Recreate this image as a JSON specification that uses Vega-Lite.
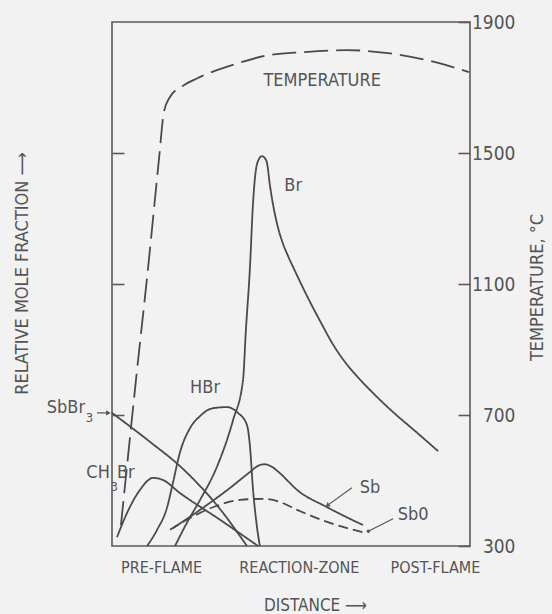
{
  "$schema": "https://vega.github.io/schema/vega-lite/v6.json",
  "width": 358,
  "height": 524,
  "autosize": {"type": "none"},
  "padding": {"left": 112, "top": 22, "right": 82, "bottom": 68},
  "background": "#f2f2f2",
  "config": {
    "view": {"stroke": "#5a5a5a", "strokeWidth": 1.6},
    "font": "Liberation Sans Narrow, DejaVu Sans Condensed, sans-serif",
    "axis": {"grid": false, "domain": false, "labelColor": "#555555", "titleColor": "#555555", "titleFontWeight": "normal", "tickColor": "#5a5a5a", "tickWidth": 1.6},
    "text": {"color": "#555555", "font": "Liberation Sans Narrow, DejaVu Sans Condensed, sans-serif"}
  },
  "datasets": {
    "curves": [
      {"species": "Br", "d": 17.6, "v": 0},
      {"species": "Br", "d": 20.9, "v": 4.4},
      {"species": "Br", "d": 24.6, "v": 8.8},
      {"species": "Br", "d": 29.3, "v": 15.1},
      {"species": "Br", "d": 33.8, "v": 24.0},
      {"species": "Br", "d": 36.6, "v": 31.7},
      {"species": "Br", "d": 37.4, "v": 41.2},
      {"species": "Br", "d": 38.5, "v": 52.7},
      {"species": "Br", "d": 39.4, "v": 65.5},
      {"species": "Br", "d": 40.2, "v": 71.8},
      {"species": "Br", "d": 41.1, "v": 73.9},
      {"species": "Br", "d": 41.9, "v": 74.4},
      {"species": "Br", "d": 42.7, "v": 74.0},
      {"species": "Br", "d": 43.3, "v": 73.1},
      {"species": "Br", "d": 44.1, "v": 68.9},
      {"species": "Br", "d": 45.0, "v": 65.1},
      {"species": "Br", "d": 46.1, "v": 61.5},
      {"species": "Br", "d": 47.5, "v": 58.2},
      {"species": "Br", "d": 49.2, "v": 55.3},
      {"species": "Br", "d": 51.1, "v": 52.5},
      {"species": "Br", "d": 53.4, "v": 49.2},
      {"species": "Br", "d": 55.9, "v": 45.8},
      {"species": "Br", "d": 58.7, "v": 42.2},
      {"species": "Br", "d": 61.7, "v": 38.5},
      {"species": "Br", "d": 65.1, "v": 35.1},
      {"species": "Br", "d": 68.7, "v": 32.2},
      {"species": "Br", "d": 73.5, "v": 28.8},
      {"species": "Br", "d": 79.1, "v": 25.2},
      {"species": "Br", "d": 84.9, "v": 21.8},
      {"species": "Br", "d": 91.1, "v": 18.1},
      {"species": "HBr", "d": 9.8, "v": 0},
      {"species": "HBr", "d": 12.6, "v": 3.1},
      {"species": "HBr", "d": 15.4, "v": 7.4},
      {"species": "HBr", "d": 17.0, "v": 12.0},
      {"species": "HBr", "d": 19.0, "v": 17.9},
      {"species": "HBr", "d": 21.8, "v": 22.5},
      {"species": "HBr", "d": 24.6, "v": 24.8},
      {"species": "HBr", "d": 28.2, "v": 26.3},
      {"species": "HBr", "d": 32.1, "v": 26.5},
      {"species": "HBr", "d": 35.2, "v": 25.4},
      {"species": "HBr", "d": 37.7, "v": 23.1},
      {"species": "HBr", "d": 38.5, "v": 19.3},
      {"species": "HBr", "d": 39.4, "v": 10.7},
      {"species": "HBr", "d": 40.5, "v": 3.6},
      {"species": "HBr", "d": 41.3, "v": 0},
      {"species": "SbBr3", "d": 0, "v": 25.4},
      {"species": "SbBr3", "d": 10.0, "v": 20.2},
      {"species": "SbBr3", "d": 20.0, "v": 14.6},
      {"species": "SbBr3", "d": 30.0, "v": 7.2},
      {"species": "SbBr3", "d": 37.7, "v": 0},
      {"species": "CH3Br", "d": 1.4, "v": 1.7},
      {"species": "CH3Br", "d": 4.2, "v": 6.3},
      {"species": "CH3Br", "d": 7.8, "v": 10.7},
      {"species": "CH3Br", "d": 11.5, "v": 13.0},
      {"species": "CH3Br", "d": 14.2, "v": 12.6},
      {"species": "CH3Br", "d": 19.0, "v": 10.1},
      {"species": "CH3Br", "d": 30.2, "v": 5.0},
      {"species": "CH3Br", "d": 40.8, "v": 0},
      {"species": "Sb", "d": 17.0, "v": 3.4},
      {"species": "Sb", "d": 24.6, "v": 6.9},
      {"species": "Sb", "d": 33.0, "v": 11.1},
      {"species": "Sb", "d": 38.5, "v": 14.1},
      {"species": "Sb", "d": 40.8, "v": 15.3},
      {"species": "Sb", "d": 42.5, "v": 15.6},
      {"species": "Sb", "d": 44.7, "v": 15.1},
      {"species": "Sb", "d": 46.9, "v": 13.9},
      {"species": "Sb", "d": 51.7, "v": 10.7},
      {"species": "Sb", "d": 60.1, "v": 7.4},
      {"species": "Sb", "d": 70.1, "v": 4.0},
      {"species": "SbO", "d": 16.2, "v": 3.1},
      {"species": "SbO", "d": 20.9, "v": 5.0},
      {"species": "SbO", "d": 28.2, "v": 7.4},
      {"species": "SbO", "d": 35.8, "v": 8.8},
      {"species": "SbO", "d": 42.2, "v": 9.0},
      {"species": "SbO", "d": 46.9, "v": 8.4},
      {"species": "SbO", "d": 51.7, "v": 6.9},
      {"species": "SbO", "d": 60.9, "v": 4.4},
      {"species": "SbO", "d": 70.7, "v": 2.5}
    ],
    "temperature": [
      {"d": 2.5, "T": 364},
      {"d": 6.7, "T": 807},
      {"d": 10.3, "T": 1173},
      {"d": 13.1, "T": 1479},
      {"d": 14.5, "T": 1625},
      {"d": 16.2, "T": 1671},
      {"d": 19.8, "T": 1705},
      {"d": 24.0, "T": 1729},
      {"d": 34.6, "T": 1772},
      {"d": 43.9, "T": 1799},
      {"d": 53.4, "T": 1808},
      {"d": 65.6, "T": 1814},
      {"d": 77.1, "T": 1805},
      {"d": 86.6, "T": 1787},
      {"d": 99.7, "T": 1747}
    ],
    "labels": [
      {"text": "TEMPERATURE", "d": 58.7, "v": 88.7, "role": "center"},
      {"text": "Br", "d": 50.6, "v": 68.7, "role": "center"},
      {"text": "HBr", "d": 26.0, "v": 30.2, "role": "center"},
      {"text": "Sb", "d": 72.1, "v": 11.1, "role": "center"},
      {"text": "Sb0", "d": 84.1, "v": 5.9, "role": "center"},
      {"text": "SbBr", "d": -7.5, "v": 26.3, "role": "before"},
      {"text": "CH", "d": -0.6, "v": 13.9, "role": "before"},
      {"text": "Br", "d": 1.4, "v": 13.9, "role": "after"},
      {"text": "3", "d": -7.3, "v": 24.4, "role": "sub"},
      {"text": "3", "d": -0.4, "v": 11.3, "role": "sub"}
    ],
    "leaders": [
      {"target": "SbBr3", "d": -4.2, "v": 25.4, "d2": -1.0, "v2": 25.4},
      {"target": "Sb", "d": 67.0, "v": 11.1, "d2": 60.3, "v2": 7.8},
      {"target": "SbO", "d": 78.5, "v": 5.2, "d2": 71.6, "v2": 2.8}
    ]
  },
  "layer": [
    {
      "data": {"name": "curves"},
      "mark": {"type": "line", "interpolate": "monotone", "color": "#4a4a4a", "strokeWidth": 1.8},
      "encoding": {
        "x": {
          "field": "d", "type": "quantitative",
          "scale": {"domain": [0, 100], "nice": false, "zero": false},
          "axis": {
            "orient": "bottom", "values": [13.7, 52.2, 90.2],
            "labelExpr": "datum.value < 30 ? 'PRE-FLAME' : datum.value < 70 ? 'REACTION-ZONE' : 'POST-FLAME'",
            "ticks": false, "labelFontSize": 16, "labelPadding": 21, "labelBaseline": "middle",
            "labelFlush": false, "labelOverlap": false, "labelBound": false,
            "title": "DISTANCE ⟶", "titleFontSize": 17, "titleX": 203, "titleY": 59,
            "titleAlign": "center", "titleBaseline": "middle"
          }
        },
        "y": {
          "field": "v", "type": "quantitative",
          "scale": {"domain": [0, 100], "nice": false},
          "axis": {
            "orient": "left", "values": [25, 50, 75], "labels": false, "tickSize": -12,
            "title": "RELATIVE MOLE FRACTION ⟶", "titleFontSize": 18, "titleAngle": 270,
            "titleX": -90, "titleY": 251, "titleAlign": "center", "titleBaseline": "middle"
          }
        },
        "detail": {"field": "species"},
        "strokeDash": {
          "field": "species", "type": "nominal",
          "scale": {"domain": ["Br", "HBr", "SbBr3", "CH3Br", "Sb", "SbO"], "range": [[1, 0], [1, 0], [1, 0], [1, 0], [1, 0], [10, 5]]},
          "legend": null
        }
      }
    },
    {
      "data": {"name": "temperature"},
      "mark": {"type": "line", "interpolate": "monotone", "color": "#4a4a4a", "strokeWidth": 1.8, "strokeDash": [24, 8]},
      "encoding": {
        "x": {"field": "d", "type": "quantitative", "scale": {"domain": [0, 100], "nice": false, "zero": false}},
        "y": {
          "field": "T", "type": "quantitative",
          "scale": {"domain": [300, 1900], "nice": false, "zero": false},
          "axis": {
            "orient": "right", "values": [300, 700, 1100, 1500, 1900], "format": "d", "tickSize": -12,
            "labelFontSize": 19, "labelAlign": "right", "labelPadding": 57, "labelBaseline": "middle",
            "labelFlush": false, "labelOverlap": false, "labelBound": false,
            "title": "TEMPERATURE, °C", "titleFontSize": 18, "titleAngle": 270,
            "titleX": 67, "titleY": 265, "titleAlign": "center", "titleBaseline": "middle"
          }
        }
      }
    },
    {
      "data": {"name": "leaders"},
      "mark": {"type": "rule", "color": "#555555", "strokeWidth": 1.2},
      "encoding": {
        "x": {"field": "d", "type": "quantitative", "scale": {"domain": [0, 100], "nice": false, "zero": false}},
        "x2": {"field": "d2"},
        "y": {"field": "v", "type": "quantitative", "scale": {"domain": [0, 100], "nice": false}, "axis": null},
        "y2": {"field": "v2"}
      }
    },
    {
      "data": {"name": "leaders"},
      "transform": [{"filter": "datum.target == 'SbBr3'"}],
      "mark": {"type": "point", "shape": "triangle-right", "filled": true, "color": "#555555", "size": 28, "opacity": 1},
      "encoding": {
        "x": {"field": "d2", "type": "quantitative", "scale": {"domain": [0, 100], "nice": false, "zero": false}},
        "y": {"field": "v2", "type": "quantitative", "scale": {"domain": [0, 100], "nice": false}, "axis": null}
      }
    },
    {
      "data": {"name": "leaders"},
      "transform": [{"filter": "datum.target == 'Sb'"}],
      "mark": {"type": "point", "shape": "triangle", "angle": 234, "filled": true, "color": "#555555", "size": 28, "opacity": 1},
      "encoding": {
        "x": {"field": "d2", "type": "quantitative", "scale": {"domain": [0, 100], "nice": false, "zero": false}},
        "y": {"field": "v2", "type": "quantitative", "scale": {"domain": [0, 100], "nice": false}, "axis": null}
      }
    },
    {
      "data": {"name": "leaders"},
      "transform": [{"filter": "datum.target == 'SbO'"}],
      "mark": {"type": "point", "shape": "circle", "filled": true, "color": "#555555", "size": 12, "opacity": 1},
      "encoding": {
        "x": {"field": "d2", "type": "quantitative", "scale": {"domain": [0, 100], "nice": false, "zero": false}},
        "y": {"field": "v2", "type": "quantitative", "scale": {"domain": [0, 100], "nice": false}, "axis": null}
      }
    },
    {
      "data": {"name": "labels"},
      "transform": [{"filter": "datum.role == 'center'"}],
      "mark": {"type": "text", "fontSize": 18, "align": "center", "baseline": "middle"},
      "encoding": {
        "x": {"field": "d", "type": "quantitative", "scale": {"domain": [0, 100], "nice": false, "zero": false}},
        "y": {"field": "v", "type": "quantitative", "scale": {"domain": [0, 100], "nice": false}, "axis": null},
        "text": {"field": "text"}
      }
    },
    {
      "data": {"name": "labels"},
      "transform": [{"filter": "datum.role == 'before'"}],
      "mark": {"type": "text", "fontSize": 18, "align": "right", "baseline": "middle"},
      "encoding": {
        "x": {"field": "d", "type": "quantitative", "scale": {"domain": [0, 100], "nice": false, "zero": false}},
        "y": {"field": "v", "type": "quantitative", "scale": {"domain": [0, 100], "nice": false}, "axis": null},
        "text": {"field": "text"}
      }
    },
    {
      "data": {"name": "labels"},
      "transform": [{"filter": "datum.role == 'after'"}],
      "mark": {"type": "text", "fontSize": 18, "align": "left", "baseline": "middle"},
      "encoding": {
        "x": {"field": "d", "type": "quantitative", "scale": {"domain": [0, 100], "nice": false, "zero": false}},
        "y": {"field": "v", "type": "quantitative", "scale": {"domain": [0, 100], "nice": false}, "axis": null},
        "text": {"field": "text"}
      }
    },
    {
      "data": {"name": "labels"},
      "transform": [{"filter": "datum.role == 'sub'"}],
      "mark": {"type": "text", "fontSize": 13, "align": "left", "baseline": "middle"},
      "encoding": {
        "x": {"field": "d", "type": "quantitative", "scale": {"domain": [0, 100], "nice": false, "zero": false}},
        "y": {"field": "v", "type": "quantitative", "scale": {"domain": [0, 100], "nice": false}, "axis": null},
        "text": {"field": "text"}
      }
    }
  ],
  "resolve": {"scale": {"y": "independent"}}
}
